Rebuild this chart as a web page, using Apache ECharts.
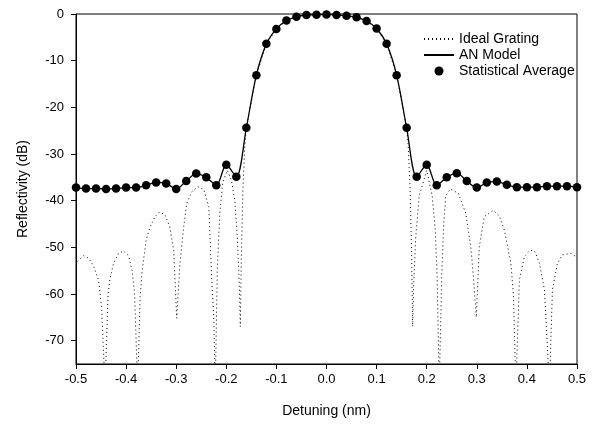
<!DOCTYPE html>
<html>
<head>
<meta charset="utf-8">
<script src="https://cdn.jsdelivr.net/npm/echarts@6/dist/echarts.min.js"></script>
<style>
html,body{margin:0;padding:0;background:#fff;}
#c{width:593px;height:428px;}
</style>
</head>
<body>
<div id="c"></div>
<script>
// Statistical average sample positions (nm) and values (dB)
const detuning = [-0.50,-0.48,-0.46,-0.44,-0.42,-0.40,-0.38,-0.36,-0.34,-0.32,-0.30,-0.28,-0.26,-0.24,-0.22,-0.20,-0.18,-0.16,-0.14,-0.12,-0.10,-0.08,-0.06,-0.04,-0.02,0.00,0.02,0.04,0.06,0.08,0.10,0.12,0.14,0.16,0.18,0.20,0.22,0.24,0.26,0.28,0.30,0.32,0.34,0.36,0.38,0.40,0.42,0.44,0.46,0.48,0.50];
const avgDb = [-37.2,-37.4,-37.4,-37.5,-37.4,-37.2,-37.2,-36.7,-36.1,-36.3,-37.5,-35.8,-34.2,-35.0,-36.7,-32.3,-34.9,-24.4,-13.1,-6.4,-3.2,-1.4,-0.6,-0.2,-0.15,-0.1,-0.2,-0.4,-0.7,-1.5,-3.1,-6.4,-13.1,-24.4,-34.9,-32.3,-36.7,-35.0,-34.1,-35.8,-37.2,-36.1,-35.9,-36.6,-37.1,-37.1,-37.1,-36.9,-36.9,-36.9,-37.1];
// AN model curve (follows the statistical average)
const anX = detuning;
const anDb = avgDb;
// Ideal grating curve
const idealX = [-0.497,-0.485,-0.475,-0.465,-0.455,-0.449,-0.442,
  -0.436,-0.432,-0.425,-0.415,-0.405,-0.395,-0.388,-0.383,-0.377,
  -0.372,-0.368,-0.360,-0.352,-0.342,-0.333,-0.322,-0.313,-0.305,-0.299,
  -0.293,-0.285,-0.279,-0.269,-0.257,-0.245,-0.235,-0.229,-0.225,-0.222,
  -0.218,-0.213,-0.207,-0.198,-0.190,-0.183,-0.178,-0.174,-0.172,
  -0.170,-0.167,-0.163,-0.160,-0.14,-0.12,-0.10,-0.08,-0.06,-0.04,-0.02,0.00,0.02,0.04,0.06,0.08,0.10,0.12,0.14,0.160,0.163,0.167,0.170,
  0.172,0.174,0.178,0.185,0.200,0.211,0.217,0.221,0.225,
  0.230,0.234,0.238,0.247,0.263,0.278,0.288,0.293,0.299,
  0.305,0.315,0.333,0.345,0.355,0.368,0.373,0.378,
  0.385,0.395,0.406,0.416,0.425,0.435,0.445,
  0.451,0.461,0.471,0.488,0.498];
const idealDb = [-53.0,-51.8,-52.3,-54.0,-57.0,-62.7,-80,
  -60.0,-56.6,-53.4,-51.3,-50.8,-51.8,-55.0,-60.0,-80,
  -60.6,-55.0,-48.4,-45.6,-43.4,-42.4,-43.1,-45.6,-50.6,-65.2,
  -54.0,-45.6,-40.6,-38.1,-37.0,-37.6,-41.3,-57.0,-65.0,-80,
  -55.0,-42.7,-36.0,-33.5,-35.5,-40.0,-48.0,-58.0,-67.0,
  -52.0,-38.0,-28.0,-24.4,-13.1,-6.4,-3.2,-1.4,-0.6,-0.2,-0.15,-0.1,-0.2,-0.4,-0.7,-1.5,-3.1,-6.4,-13.1,-24.4,-28.0,-38.0,-52.0,
  -67.0,-58.0,-48.0,-39.0,-33.5,-39.0,-46.0,-57.0,-80,
  -56.0,-45.0,-39.0,-37.5,-38.4,-42.7,-49.9,-56.0,-65.0,
  -49.9,-43.4,-42.1,-43.3,-46.3,-53.4,-60.0,-80,
  -57.0,-52.0,-50.6,-50.9,-53.4,-59.1,-80,
  -59.0,-53.4,-51.6,-51.3,-52.0];
const xTicks = [-0.5,-0.4,-0.3,-0.2,-0.1,0.0,0.1,0.2,0.3,0.4,0.5];
const yTicks = [0,-10,-20,-30,-40,-50,-60,-70];

const zip = (xs, ys) => xs.map((x, i) => [x, ys[i]]);
const font = '"Liberation Sans", Arial, sans-serif';

const chart = echarts.init(document.getElementById('c'), null, {renderer: 'canvas'});
chart.setOption({
  backgroundColor: '#fff',
  animation: false,
  textStyle: {fontFamily: font, color: '#000'},
  grid: {left: 76, right: 16, top: 14, bottom: 64, show: true, borderColor: '#000', borderWidth: 1},
  legend: {
    orient: 'vertical', left: 418, top: 26, itemGap: 0, itemWidth: 30, itemHeight: 9,
    textStyle: {fontSize: 14, fontFamily: font, color: '#000', lineHeight: 16},
    data: [
      {name: 'Ideal Grating', itemStyle: {opacity: 0}},
      {name: 'AN Model', itemStyle: {opacity: 0}},
      {name: 'Statistical Average', icon: 'circle', itemStyle: {opacity: 1}}
    ]
  },
  xAxis: {
    type: 'value', min: -0.5, max: 0.5,
    name: 'Detuning (nm)', nameLocation: 'middle', nameGap: 40,
    nameTextStyle: {fontSize: 14, fontFamily: font, color: '#000'},
    axisLine: {onZero: false, lineStyle: {color: '#000', width: 1}},
    axisTick: {show: true, length: 5, customValues: xTicks, lineStyle: {color: '#000'}},
    axisLabel: {customValues: xTicks, fontSize: 13, color: '#000', margin: 9, fontFamily: font,
      formatter: v => (Math.abs(v) < 1e-9 ? 0 : v).toFixed(1)},
    splitLine: {show: false}
  },
  yAxis: {
    type: 'value', min: -75, max: 0,
    name: 'Reflectivity (dB)', nameLocation: 'middle', nameGap: 46,
    nameTextStyle: {fontSize: 14, fontFamily: font, color: '#000'},
    axisLine: {show: true, onZero: false, lineStyle: {color: '#000', width: 1}},
    axisTick: {show: true, length: 5, customValues: yTicks, lineStyle: {color: '#000'}},
    axisLabel: {customValues: yTicks, fontSize: 13, color: '#000', margin: 12, fontFamily: font},
    splitLine: {show: false}
  },
  series: [
    {
      name: 'Ideal Grating', type: 'line', data: zip(idealX, idealDb),
      symbol: 'none', clip: true, z: 1,
      lineStyle: {color: '#000', width: 1, type: [1, 3]},
      itemStyle: {color: '#000'}
    },
    {
      name: 'AN Model', type: 'line', data: zip(anX, anDb),
      symbol: 'none', smooth: 0.3, clip: true, z: 2,
      lineStyle: {color: '#000', width: 1.3},
      itemStyle: {color: '#000'}
    },
    {
      name: 'Statistical Average', type: 'scatter', data: zip(detuning, avgDb),
      symbol: 'circle', symbolSize: 8.5, z: 3,
      itemStyle: {color: '#000', opacity: 1}
    }
  ]
});
</script>
</body>
</html>
